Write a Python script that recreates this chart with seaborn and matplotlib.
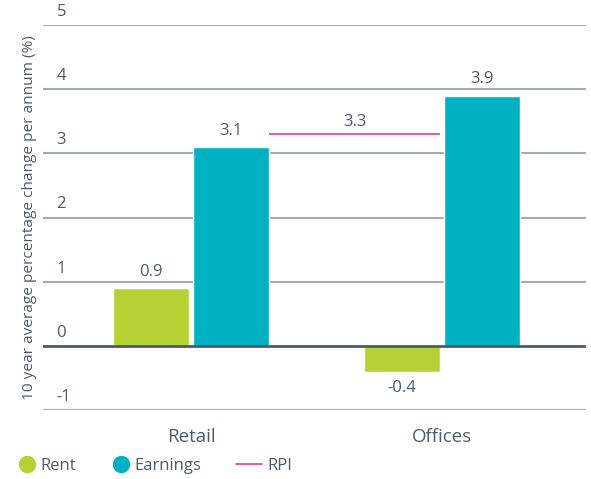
import matplotlib
matplotlib.use("Agg")
import matplotlib.pyplot as plt
import seaborn as sns
import pandas as pd
from matplotlib.lines import Line2D

categories = ["Retail", "Offices"]
rent = [0.9, -0.4]
earnings = [3.1, 3.9]
rpi = 3.3
series_names = ["Rent", "Earnings"]
yticks = [-1, 0, 1, 2, 3, 4, 5]
ylabel = "10 year average percentage change per annum (%)"

GREEN = "#b5d334"
TEAL = "#00b2c1"
PINK = "#ea3a94"
TEXT = "#4a5b6c"
GRID = "#a3acb4"

sns.set_theme(style="white")
plt.rcParams["font.family"] = ["Open Sans", "DejaVu Sans"]

W, H = 591, 479

df = pd.DataFrame({
    "category": categories * 2,
    "series": [series_names[0]] * len(categories) + [series_names[1]] * len(categories),
    "value": rent + earnings,
})

fig = plt.figure(figsize=(W / 100, H / 100), dpi=100)
ax = fig.add_axes([43 / W, 1 - 410 / H, 543 / W, 385 / H])

sns.barplot(data=df, x="category", y="value", hue="series",
            palette=[GREEN, TEAL], width=0.636, gap=0.047,
            ax=ax, legend=False, saturation=1, zorder=3)

ax.set_ylim(-1, 5)
ax.set_xlim(-0.59, 1.574)
for s in ax.spines.values():
    s.set_visible(False)
ax.set_yticks([])
ax.tick_params(axis="x", length=0, pad=13, labelsize=13.5, labelcolor=TEXT)
ax.set_xlabel("")
ax.set_ylabel(ylabel, color=TEXT, fontsize=11.1, labelpad=4)

for t in yticks:
    ax.axhline(t, color=(TEXT if t == 0 else GRID), lw=(2.0 if t == 0 else 1.5),
               zorder=(4 if t == 0 else 1))
    ax.text(0.025, t + 0.08, f"{t}", transform=ax.get_yaxis_transform(),
            ha="left", va="bottom", fontsize=12, color=TEXT)

for cont in ax.containers:
    ax.bar_label(cont, fmt="{:.1f}", padding=6, fontsize=12, color=TEXT)

# RPI line spanning from the retail earnings bar to the offices rent bar
bars_rent = ax.containers[0].patches
bars_earn = ax.containers[1].patches
x0 = bars_earn[0].get_x() + bars_earn[0].get_width()
x1 = bars_rent[1].get_x() + bars_rent[1].get_width()
ax.hlines(rpi, x0, x1, color=PINK, lw=1.2, zorder=3)
ax.annotate(f"{rpi:.1f}", ((x0 + x1) / 2, rpi), xytext=(0, 3), textcoords="offset points",
            ha="center", va="bottom", fontsize=12, color=TEXT)

legend_items = [
    (Line2D([], [], marker="o", ls="none", markersize=11.5, color=GREEN), series_names[0], 19, 1.0),
    (Line2D([], [], marker="o", ls="none", markersize=11.5, color=TEAL), series_names[1], 113, 1.0),
    (Line2D([], [], color=PINK, lw=1.2), "RPI", 236, 1.56),
]
for h, lab, xpx, hl in legend_items:
    fig.legend([h], [lab], loc="center left", bbox_to_anchor=(xpx / W, 1 - 466 / H),
               frameon=False, fontsize=12, labelcolor=TEXT, handletextpad=0.3,
               handlelength=hl, borderpad=0, borderaxespad=0)

fig.savefig("out.png", dpi=100)
